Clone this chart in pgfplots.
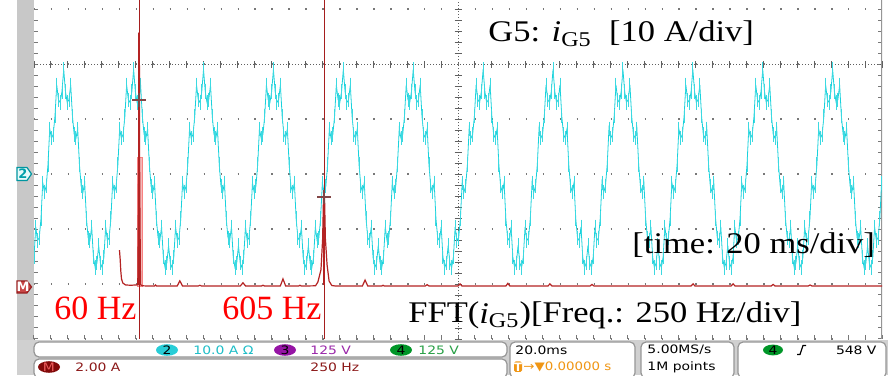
\documentclass[border=0pt]{standalone}
\usepackage{fontspec}
\setmainfont{Liberation Serif}
\newfontfamily\tek{DejaVu Sans}
\usepackage{pgfplots}
\pgfplotsset{compat=1.18}
\definecolor{cy}{RGB}{25,210,220}
\definecolor{fft}{RGB}{180,35,35}
\definecolor{cur}{RGB}{165,30,30}
\definecolor{pinkband}{RGB}{245,185,185}
\definecolor{strip}{RGB}{200,200,200}
\definecolor{bar}{RGB}{208,208,208}
\definecolor{boxline}{RGB}{150,150,150}
\definecolor{dotc}{RGB}{120,120,120}
\definecolor{ch2}{RGB}{40,205,215}
\definecolor{ch2t}{RGB}{30,190,200}
\definecolor{ch3}{RGB}{150,20,165}
\definecolor{ch3t}{RGB}{155,40,170}
\definecolor{ch4}{RGB}{0,150,40}
\definecolor{ch4t}{RGB}{40,160,70}
\definecolor{mth}{RGB}{130,10,10}
\definecolor{mtht}{RGB}{140,25,25}
\definecolor{org}{RGB}{240,150,20}
\definecolor{crs}{RGB}{130,70,70}
\pgfplotsset{frame/.style={at={(17pt,18pt)}, anchor=south west, width=424pt, height=169.5pt, scale only axis},
  nolabels/.style={xticklabels={,,,,,,,,,,,,}, yticklabels={,,,,,,,,,,,,}}}
\newcommand{\tf}{\tek\fontsize{5.8}{7}\selectfont}
\begin{document}
\begin{tikzpicture}
\path[use as bounding box] (0pt,0pt) rectangle (444pt,187.5pt);
\begin{scope}[x=0.5pt,y=-0.5pt,shift={(0pt,187.5pt)}]
\fill[white] (0,0) rectangle (888,375);
\fill[strip] (17,0) rectangle (34,375);
\fill[bar] (17,340) rectangle (888,375);
\end{scope}

% graticule
\begin{axis}[frame, nolabels, xmin=-5, xmax=5, ymin=-5, ymax=1.1636,
  axis line style={draw=none},
  xtick={-5,...,5}, ytick={-5,...,1}, minor x tick num=4, minor y tick num=4,
  xtick pos=left, ytick pos=both, tick align=inside,
  major tick length=2pt, minor tick length=2pt,
  tick style={dotc, line width=0.5pt},
  ymajorgrids=true,
  major y grid style={dotc, line width=0.7pt, dash pattern=on 0.7pt off 7.78pt}]
\draw[boxline, line width=0.6pt] (axis cs:5,-5) -- (axis cs:5,1.1636);
\end{axis}

% centre crosshair
\begin{axis}[frame, nolabels, xmin=-5, xmax=5, ymin=-5, ymax=1.1636,
  axis lines=middle, axis line style={-, dotc!80!black, line width=0.5pt, dash pattern=on 0.6pt off 0.9pt},
  inner axis line style={-},
  xtick={-5,...,5}, ytick={-5,...,1}, minor x tick num=4, minor y tick num=4,
  tick align=center,
  major tick length=3.5pt, minor tick length=3.5pt,
  tick style={dotc!80!black, line width=0.5pt}]
\end{axis}

% time-domain current i_G5
\begin{axis}[frame, hide axis, xmin=0, xmax=485.25, ymin=-3, ymax=3.1636]
\addplot[cy, line width=0.4pt, mark=|, mark size=3.6pt, mark options={cy!85!white, line width=0.45pt}] table[row sep=\\] {k y\\
0 -1.51\\1 -0.96\\2 -1.21\\3 -1.16\\4 -0.81\\5 -0.16\\6 -0.33\\7 -0.22\\8 0.17\\9 0.82\\
10 0.65\\11 0.72\\12 1.05\\13 1.62\\14 1.35\\15 1.30\\16 1.50\\17 1.90\\18 1.50\\19 1.30\\
20 1.35\\21 1.62\\22 1.05\\23 0.72\\24 0.65\\25 0.82\\26 0.17\\27 -0.22\\28 -0.33\\29 -0.16\\
30 -0.81\\31 -1.16\\32 -1.21\\33 -0.96\\34 -1.51\\35 -1.70\\36 -1.62\\37 -1.30\\38 -1.62\\39 -1.70\\
40 -1.51\\41 -0.96\\42 -1.21\\43 -1.16\\44 -0.81\\45 -0.16\\46 -0.33\\47 -0.22\\48 0.17\\49 0.82\\
50 0.65\\51 0.72\\52 1.05\\53 1.62\\54 1.35\\55 1.30\\56 1.50\\57 1.90\\58 1.50\\59 1.30\\
60 1.35\\61 1.62\\62 1.05\\63 0.72\\64 0.65\\65 0.82\\66 0.17\\67 -0.22\\68 -0.33\\69 -0.16\\
70 -0.81\\71 -1.16\\72 -1.21\\73 -0.96\\74 -1.51\\75 -1.70\\76 -1.62\\77 -1.30\\78 -1.62\\79 -1.70\\
80 -1.51\\81 -0.96\\82 -1.21\\83 -1.16\\84 -0.81\\85 -0.16\\86 -0.33\\87 -0.22\\88 0.17\\89 0.82\\
90 0.65\\91 0.72\\92 1.05\\93 1.62\\94 1.35\\95 1.30\\96 1.50\\97 1.90\\98 1.50\\99 1.30\\
100 1.35\\101 1.62\\102 1.05\\103 0.72\\104 0.65\\105 0.82\\106 0.17\\107 -0.22\\108 -0.33\\109 -0.16\\
110 -0.81\\111 -1.16\\112 -1.21\\113 -0.96\\114 -1.51\\115 -1.70\\116 -1.62\\117 -1.30\\118 -1.62\\119 -1.70\\
120 -1.51\\121 -0.96\\122 -1.21\\123 -1.16\\124 -0.81\\125 -0.16\\126 -0.33\\127 -0.22\\128 0.17\\129 0.82\\
130 0.65\\131 0.72\\132 1.05\\133 1.62\\134 1.35\\135 1.30\\136 1.50\\137 1.90\\138 1.50\\139 1.30\\
140 1.35\\141 1.62\\142 1.05\\143 0.72\\144 0.65\\145 0.82\\146 0.17\\147 -0.22\\148 -0.33\\149 -0.16\\
150 -0.81\\151 -1.16\\152 -1.21\\153 -0.96\\154 -1.51\\155 -1.70\\156 -1.62\\157 -1.30\\158 -1.62\\159 -1.70\\
160 -1.51\\161 -0.96\\162 -1.21\\163 -1.16\\164 -0.81\\165 -0.16\\166 -0.33\\167 -0.22\\168 0.17\\169 0.82\\
170 0.65\\171 0.72\\172 1.05\\173 1.62\\174 1.35\\175 1.30\\176 1.50\\177 1.90\\178 1.50\\179 1.30\\
180 1.35\\181 1.62\\182 1.05\\183 0.72\\184 0.65\\185 0.82\\186 0.17\\187 -0.22\\188 -0.33\\189 -0.16\\
190 -0.81\\191 -1.16\\192 -1.21\\193 -0.96\\194 -1.51\\195 -1.70\\196 -1.62\\197 -1.30\\198 -1.62\\199 -1.70\\
200 -1.51\\201 -0.96\\202 -1.21\\203 -1.16\\204 -0.81\\205 -0.16\\206 -0.33\\207 -0.22\\208 0.17\\209 0.82\\
210 0.65\\211 0.72\\212 1.05\\213 1.62\\214 1.35\\215 1.30\\216 1.50\\217 1.90\\218 1.50\\219 1.30\\
220 1.35\\221 1.62\\222 1.05\\223 0.72\\224 0.65\\225 0.82\\226 0.17\\227 -0.22\\228 -0.33\\229 -0.16\\
230 -0.81\\231 -1.16\\232 -1.21\\233 -0.96\\234 -1.51\\235 -1.70\\236 -1.62\\237 -1.30\\238 -1.62\\239 -1.70\\
240 -1.51\\241 -0.96\\242 -1.21\\243 -1.16\\244 -0.81\\245 -0.16\\246 -0.33\\247 -0.22\\248 0.17\\249 0.82\\
250 0.65\\251 0.72\\252 1.05\\253 1.62\\254 1.35\\255 1.30\\256 1.50\\257 1.90\\258 1.50\\259 1.30\\
260 1.35\\261 1.62\\262 1.05\\263 0.72\\264 0.65\\265 0.82\\266 0.17\\267 -0.22\\268 -0.33\\269 -0.16\\
270 -0.81\\271 -1.16\\272 -1.21\\273 -0.96\\274 -1.51\\275 -1.70\\276 -1.62\\277 -1.30\\278 -1.62\\279 -1.70\\
280 -1.51\\281 -0.96\\282 -1.21\\283 -1.16\\284 -0.81\\285 -0.16\\286 -0.33\\287 -0.22\\288 0.17\\289 0.82\\
290 0.65\\291 0.72\\292 1.05\\293 1.62\\294 1.35\\295 1.30\\296 1.50\\297 1.90\\298 1.50\\299 1.30\\
300 1.35\\301 1.62\\302 1.05\\303 0.72\\304 0.65\\305 0.82\\306 0.17\\307 -0.22\\308 -0.33\\309 -0.16\\
310 -0.81\\311 -1.16\\312 -1.21\\313 -0.96\\314 -1.51\\315 -1.70\\316 -1.62\\317 -1.30\\318 -1.62\\319 -1.70\\
320 -1.51\\321 -0.96\\322 -1.21\\323 -1.16\\324 -0.81\\325 -0.16\\326 -0.33\\327 -0.22\\328 0.17\\329 0.82\\
330 0.65\\331 0.72\\332 1.05\\333 1.62\\334 1.35\\335 1.30\\336 1.50\\337 1.90\\338 1.50\\339 1.30\\
340 1.35\\341 1.62\\342 1.05\\343 0.72\\344 0.65\\345 0.82\\346 0.17\\347 -0.22\\348 -0.33\\349 -0.16\\
350 -0.81\\351 -1.16\\352 -1.21\\353 -0.96\\354 -1.51\\355 -1.70\\356 -1.62\\357 -1.30\\358 -1.62\\359 -1.70\\
360 -1.51\\361 -0.96\\362 -1.21\\363 -1.16\\364 -0.81\\365 -0.16\\366 -0.33\\367 -0.22\\368 0.17\\369 0.82\\
370 0.65\\371 0.72\\372 1.05\\373 1.62\\374 1.35\\375 1.30\\376 1.50\\377 1.90\\378 1.50\\379 1.30\\
380 1.35\\381 1.62\\382 1.05\\383 0.72\\384 0.65\\385 0.82\\386 0.17\\387 -0.22\\388 -0.33\\389 -0.16\\
390 -0.81\\391 -1.16\\392 -1.21\\393 -0.96\\394 -1.51\\395 -1.70\\396 -1.62\\397 -1.30\\398 -1.62\\399 -1.70\\
400 -1.51\\401 -0.96\\402 -1.21\\403 -1.16\\404 -0.81\\405 -0.16\\406 -0.33\\407 -0.22\\408 0.17\\409 0.82\\
410 0.65\\411 0.72\\412 1.05\\413 1.62\\414 1.35\\415 1.30\\416 1.50\\417 1.90\\418 1.50\\419 1.30\\
420 1.35\\421 1.62\\422 1.05\\423 0.72\\424 0.65\\425 0.82\\426 0.17\\427 -0.22\\428 -0.33\\429 -0.16\\
430 -0.81\\431 -1.16\\432 -1.21\\433 -0.96\\434 -1.51\\435 -1.70\\436 -1.62\\437 -1.30\\438 -1.62\\439 -1.70\\
440 -1.51\\441 -0.96\\442 -1.21\\443 -1.16\\444 -0.81\\445 -0.16\\446 -0.33\\447 -0.22\\448 0.17\\449 0.82\\
450 0.65\\451 0.72\\452 1.05\\453 1.62\\454 1.35\\455 1.30\\456 1.50\\457 1.90\\458 1.50\\459 1.30\\
460 1.35\\461 1.62\\462 1.05\\463 0.72\\464 0.65\\465 0.82\\466 0.17\\467 -0.22\\468 -0.33\\469 -0.16\\
470 -0.81\\471 -1.16\\472 -1.21\\473 -0.96\\474 -1.51\\475 -1.70\\476 -1.62\\477 -1.30\\478 -1.62\\479 -1.70\\
480 -1.51\\481 -0.96\\482 -1.21\\483 -1.16\\484 -0.81\\485 -0.16\\
};
\end{axis}

% FFT of i_G5
\begin{axis}[frame, hide axis, xmin=-250, xmax=2250, ymin=-1.8545, ymax=10.4727]
\addplot[fill=pinkband, draw=pinkband!70!red, line width=0.3pt] coordinates {(54,0.07) (54,4.76) (69,4.76) (69,0.07)} -- cycle;
\addplot[cur, line width=0.5pt] coordinates {(60,-1.8545) (60,10.4727)};
\addplot[cur, line width=0.5pt] coordinates {(605,-1.8545) (605,10.4727)};
\addplot[fft, line width=0.6pt] coordinates {
(2,1.38) (4,1.05) (6,0.60) (8,0.33) (12,0.18) (20,0.11) (35,0.10) (51,0.11) (56,0.12)
(58.5,4.0) (59.5,9.27) (60.5,9.27) (61.5,4.0) (64,0.12) (70,0.08) (90,0.07)
(105,0.07) (108,0.11) (111,0.07) (172,0.07) (180,0.26) (188,0.07) (234,0.07) (239,0.10) (244,0.07)
(358,0.07) (366,0.19) (374,0.07) (420,0.07) (425,0.10) (430,0.07) (476,0.07) (484,0.33) (492,0.07)
(530,0.07) (534,0.10) (538,0.07) (580,0.08) (587,0.22) (596,0.66) (601,1.8) (603.5,3.31) (606.5,3.31)
(609,1.8) (614,0.84) (620,0.25) (628,0.09) (640,0.07) (718,0.07) (726,0.29) (734,0.07)
(775,0.07) (779,0.10) (783,0.07) (903,0.07) (909,0.12) (915,0.07) (1000,0.07) (1006,0.15) (1012,0.07)
(1141,0.07) (1147,0.17) (1153,0.07) (1265,0.07) (1271,0.15) (1277,0.07) (1389,0.07) (1395,0.13) (1401,0.07)
(1687,0.07) (1693,0.15) (1699,0.07) (1805,0.07) (1811,0.15) (1817,0.07) (1923,0.07) (1929,0.13) (1935,0.07)
(2032,0.07) (2038,0.11) (2044,0.07) (2250,0.07)};
\addplot[fft, line width=1.3pt] coordinates {(60,0.1) (60,9.27)};
\addplot[fft, line width=1.1pt] coordinates {(605,0.1) (605,3.31)};
\addplot[only marks, mark=+, mark size=3.5pt, mark options={crs, line width=0.7pt}] coordinates {(60,6.84) (605,3.31)};
\end{axis}

\begin{scope}[x=0.5pt,y=-0.5pt,shift={(0pt,187.5pt)}]
% annotations
\node[anchor=base west, inner sep=0, xscale=1.15, font=\fontsize{15}{18}\selectfont] at (488,42) {G5: \textit{i}\textsubscript{G5}\ \ [10 A/div]};
\node[anchor=base west, inner sep=0, xscale=1.15, font=\fontsize{15}{18}\selectfont] at (632,254) {[time: 20 ms/div]};
\node[anchor=base west, inner sep=0, xscale=1.15, font=\fontsize{15}{18}\selectfont] at (408,323) {FFT(\textit{i}\textsubscript{G5})[Freq.: 250 Hz/div]};
\node[anchor=base west, inner sep=0, text=red, font=\fontsize{17}{20}\selectfont] at (54,320) {60 Hz};
\node[anchor=base west, inner sep=0, text=red, font=\fontsize{17}{20}\selectfont] at (222,320) {605 Hz};

% channel markers on the left strip
\draw[draw={rgb,255:red,0;green,150;blue,160}, fill={rgb,255:red,230;green,250;blue,250}, line width=0.6pt] (17,167.5) -- (27,167.5) -- (31.5,174) -- (27,180.5) -- (17,180.5) -- cycle;
\node[inner sep=0, font=\tek\fontsize{6.5}{7}\selectfont\bfseries, text={rgb,255:red,0;green,160;blue,170}] at (23,174) {2};
\draw[draw={rgb,255:red,150;green,30;blue,30}, fill={rgb,255:red,200;green,70;blue,70}, line width=0.6pt] (17,281) -- (27,281) -- (31.5,287) -- (27,293) -- (17,293) -- cycle;
\node[inner sep=0, font=\tek\fontsize{6.5}{7}\selectfont\bfseries, text=white] at (23,287) {M};

% status bar
\draw[boxline, fill=white, rounded corners=2.5pt, line width=0.6pt] (34,342) rectangle (507,357);
\draw[boxline, fill=white, rounded corners=2.5pt, line width=0.6pt] (34,359) rectangle (507,378);
\draw[boxline, fill=white, rounded corners=2.5pt, line width=0.6pt] (510,342) rectangle (635,378);
\draw[boxline, fill=white, rounded corners=2.5pt, line width=0.6pt] (641,342) rectangle (734,378);
\draw[boxline, fill=white, rounded corners=2.5pt, line width=0.6pt] (738,342) rectangle (886,378);

\fill[ch2] (167,350) ellipse [x radius=5.5pt, y radius=2.9pt];
\node[inner sep=0, font=\tf, xscale=1.2] at (167,350) {2};
\node[anchor=west, inner sep=0, font=\tf, xscale=1.2, text=ch2t] at (193,350) {10.0 A Ω};
\fill[ch3] (285,350) ellipse [x radius=5.5pt, y radius=2.9pt];
\node[inner sep=0, font=\tf, xscale=1.2] at (285,350) {3};
\node[anchor=west, inner sep=0, font=\tf, xscale=1.2, text=ch3t] at (310,350) {125 V};
\fill[ch4] (401,350) ellipse [x radius=5.5pt, y radius=2.9pt];
\node[inner sep=0, font=\tf, xscale=1.2] at (401,350) {4};
\node[anchor=west, inner sep=0, font=\tf, xscale=1.2, text=ch4t] at (418,350) {125 V};

\fill[mth] (49,367) ellipse [x radius=5.5pt, y radius=2.9pt];
\node[inner sep=0, font=\tf, xscale=1.2, text={rgb,255:red,235;green,90;blue,90}] at (49,367) {M};
\node[anchor=west, inner sep=0, font=\tf, xscale=1.2, text=mtht] at (75,367) {2.00 A};
\node[anchor=west, inner sep=0, font=\tf, xscale=1.2, text=mtht] at (310,367) {250 Hz};

\node[anchor=west, inner sep=0, font=\tf, xscale=1.2] at (515,350) {20.0ms};
\fill[org, rounded corners=0.8pt] (514,361.5) rectangle (522,372);
\node[inner sep=0, font=\tf\bfseries, text=white] at (518,367) {T};
\node[anchor=west, inner sep=0, font=\tf, xscale=1.15, text=org] at (523,367) {→▼0.00000 s};

\node[anchor=west, inner sep=0, font=\tf, xscale=1.2] at (647,350) {5.00MS/s};
\node[anchor=west, inner sep=0, font=\tf, xscale=1.2] at (647,367) {1M points};

\fill[ch4] (773,350) ellipse [x radius=5pt, y radius=2.7pt];
\node[inner sep=0, font=\tf, xscale=1.2] at (773,350) {4};
\draw[line width=0.6pt] (797,354.5) -- (800,354.5) -- (803,345.5) -- (806,345.5);
\node[anchor=east, inner sep=0, font=\tf, xscale=1.2] at (877,350) {548 V};
\end{scope}
\end{tikzpicture}
\end{document}
